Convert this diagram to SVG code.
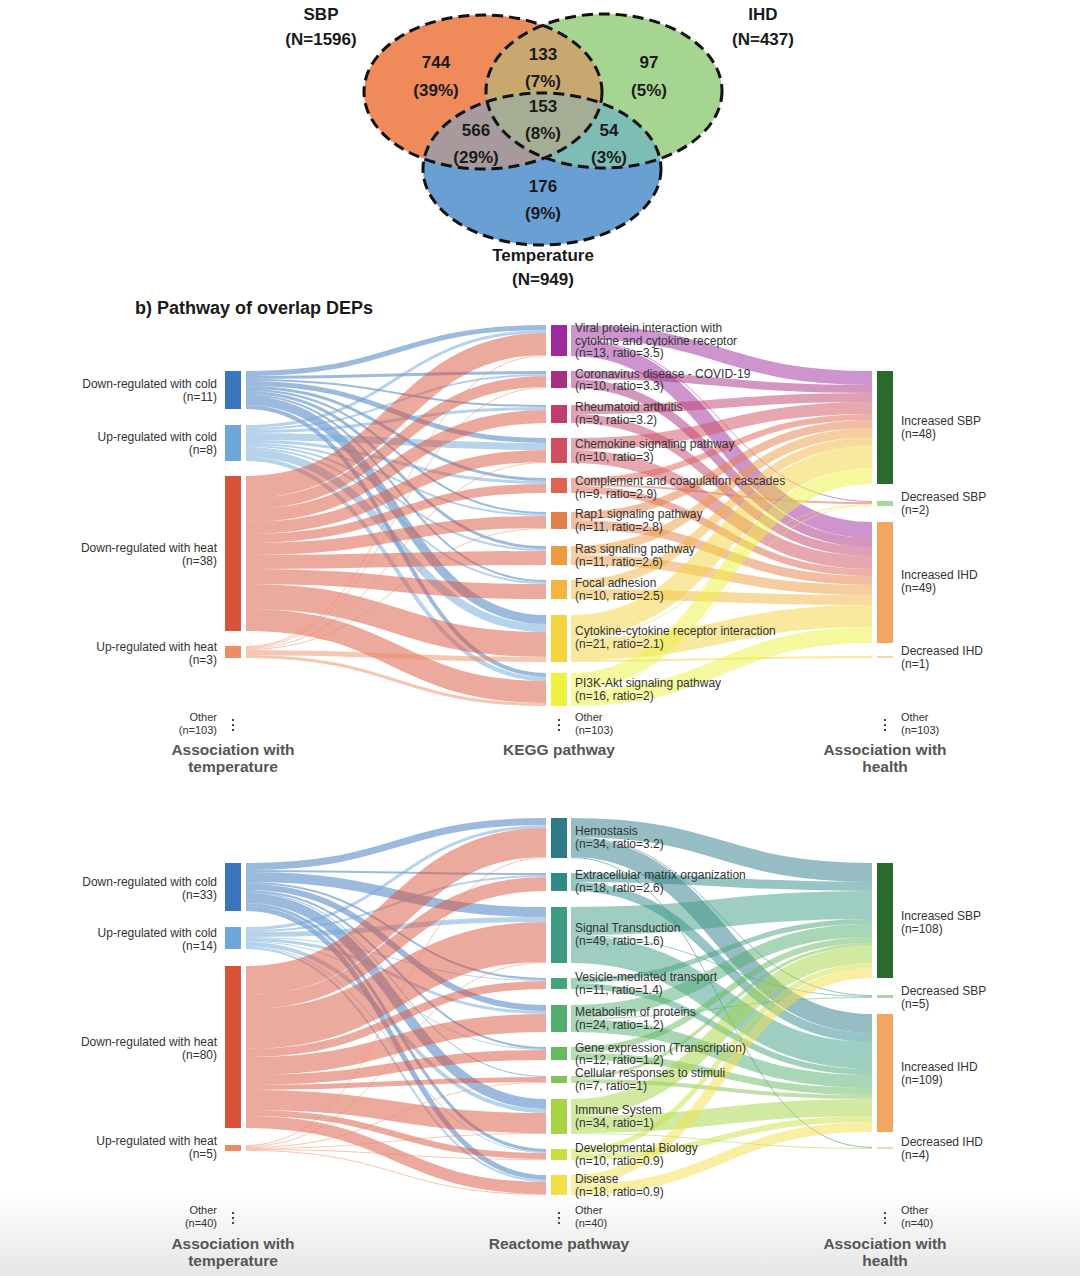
<svg xmlns="http://www.w3.org/2000/svg" width="1080" height="1276" viewBox="0 0 1080 1276">
<defs>
<style>
text{font-family:"Liberation Sans",Arial,sans-serif}
.t{font-size:12px;fill:#333}
.o{font-size:11px;fill:#333}
.r{text-anchor:end}
.ax{font-size:15.5px;font-weight:bold;fill:#555;text-anchor:middle}
.v{font-size:17px;font-weight:bold;fill:#1a1a1a;text-anchor:middle}
.vo{fill:none;stroke:#111;stroke-width:3;stroke-dasharray:11 6}
.lk path{fill:none;stroke-opacity:.5}
.dc{stroke:#3a76bd}.uc{stroke:#70a7da}.dh{stroke:#d9533b}.uh{stroke:#ee8d62}
.k1{stroke:#9c2a9e}.k2{stroke:#a8307f}.k3{stroke:#bf3f6c}.k4{stroke:#cf4f5f}.k5{stroke:#dc6450}.k6{stroke:#e57e47}.k7{stroke:#ec9b40}.k8{stroke:#f2b53f}.k9{stroke:#f3d43e}.k10{stroke:#eef23f}
.r1{stroke:#2e7b87}.r2{stroke:#2f8a8a}.r3{stroke:#3d9b84}.r4{stroke:#44a47c}.r5{stroke:#52ae6e}.r6{stroke:#66ba5e}.r7{stroke:#80c454}.r8{stroke:#a6d443}.r9{stroke:#cadf3f}.r10{stroke:#f1e04a}
.dot{stroke:#444;stroke-width:2;stroke-dasharray:2 3}
</style>
<clipPath id="cO"><ellipse cx="483" cy="92" rx="119" ry="77"/></clipPath>
<clipPath id="cG"><ellipse cx="604" cy="91" rx="118" ry="77"/></clipPath>
<linearGradient id="bg" x1="0" y1="0" x2="0" y2="1"><stop offset="0" stop-color="#fff"/><stop offset="1" stop-color="#e6e6e6"/></linearGradient>
</defs>
<rect width="1080" height="1276" fill="#fff"/>
<rect y="1190" width="1080" height="86" fill="url(#bg)"/>

<g id="venn">
<ellipse cx="483" cy="92" rx="119" ry="77" fill="#ef8a5b"/>
<ellipse cx="604" cy="91" rx="118" ry="77" fill="#a5d590"/>
<ellipse cx="542" cy="169" rx="119" ry="76" fill="#6a9fd3"/>
<ellipse cx="604" cy="91" rx="118" ry="77" fill="#c9a870" clip-path="url(#cO)"/>
<ellipse cx="542" cy="169" rx="119" ry="76" fill="#a89a9c" clip-path="url(#cO)"/>
<ellipse cx="542" cy="169" rx="119" ry="76" fill="#7ebdb5" clip-path="url(#cG)"/>
<g clip-path="url(#cO)"><ellipse cx="542" cy="169" rx="119" ry="76" fill="#a6ad95" clip-path="url(#cG)"/></g>
<ellipse class="vo" cx="483" cy="92" rx="119" ry="77"/>
<ellipse class="vo" cx="604" cy="91" rx="118" ry="77"/>
<ellipse class="vo" cx="542" cy="169" rx="119" ry="76"/>
<text class="v" x="321" y="20">SBP</text><text class="v" x="321" y="45">(N=1596)</text>
<text class="v" x="763" y="20">IHD</text><text class="v" x="763" y="45">(N=437)</text>
<text class="v" x="436" y="68">744</text><text class="v" x="436" y="96">(39%)</text>
<text class="v" x="543" y="60">133</text><text class="v" x="543" y="87">(7%)</text>
<text class="v" x="649" y="68">97</text><text class="v" x="649" y="96">(5%)</text>
<text class="v" x="543" y="112">153</text><text class="v" x="543" y="139">(8%)</text>
<text class="v" x="476" y="136">566</text><text class="v" x="476" y="163">(29%)</text>
<text class="v" x="609" y="136">54</text><text class="v" x="609" y="163">(3%)</text>
<text class="v" x="543" y="192">176</text><text class="v" x="543" y="219">(9%)</text>
<text class="v" x="543" y="261">Temperature</text><text class="v" x="543" y="285">(N=949)</text>
</g>

<text x="135" y="314" style="font-size:18px;font-weight:bold;fill:#1a1a1a">b) Pathway of overlap DEPs</text>

<g id="connectors" class="lk">
<path class="dc" stroke-width="5" d="M246,373.5C396,373.5 396,327.5 546,327.5"/>
<path class="dc" stroke-width="3" d="M246,377.5C396,377.5 396,372.5 546,372.5"/>
<path class="dc" stroke-width="2" d="M246,380C396,380 396,406 546,406"/>
<path class="dc" stroke-width="5" d="M246,383.5C396,383.5 396,440.5 546,440.5"/>
<path class="dc" stroke-width="3" d="M246,387.5C396,387.5 396,479.5 546,479.5"/>
<path class="dc" stroke-width="2" d="M246,390C396,390 396,513 546,513"/>
<path class="dc" stroke-width="3" d="M246,392.5C396,392.5 396,547.5 546,547.5"/>
<path class="dc" stroke-width="2" d="M246,395C396,395 396,581 546,581"/>
<path class="dc" stroke-width="9" d="M246,400.5C396,400.5 396,619.5 546,619.5"/>
<path class="dc" stroke-width="4" d="M246,407C396,407 396,675 546,675"/>
<path class="uc" stroke-width="3" d="M246,426.5C396,426.5 396,331.5 546,331.5"/>
<path class="uc" stroke-width="2" d="M246,429C396,429 396,375 546,375"/>
<path class="uc" stroke-width="3" d="M246,431.5C396,431.5 396,408.5 546,408.5"/>
<path class="uc" stroke-width="7" d="M246,436.5C396,436.5 396,446.5 546,446.5"/>
<path class="uc" stroke-width="3" d="M246,441.5C396,441.5 396,482.5 546,482.5"/>
<path class="uc" stroke-width="2" d="M246,444C396,444 396,515 546,515"/>
<path class="uc" stroke-width="2" d="M246,446C396,446 396,550 546,550"/>
<path class="uc" stroke-width="2" d="M246,448C396,448 396,583 546,583"/>
<path class="uc" stroke-width="8" d="M246,453C396,453 396,628 546,628"/>
<path class="uc" stroke-width="4" d="M246,459C396,459 396,679 546,679"/>
<path class="dh" stroke-width="22" d="M246,487C396,487 396,344 546,344"/>
<path class="dh" stroke-width="11" d="M246,503.5C396,503.5 396,381.5 546,381.5"/>
<path class="dh" stroke-width="13" d="M246,515.5C396,515.5 396,416.5 546,416.5"/>
<path class="dh" stroke-width="12" d="M246,528C396,528 396,456 546,456"/>
<path class="dh" stroke-width="9" d="M246,538.5C396,538.5 396,488.5 546,488.5"/>
<path class="dh" stroke-width="12" d="M246,549C396,549 396,522 546,522"/>
<path class="dh" stroke-width="14" d="M246,562C396,562 396,558 546,558"/>
<path class="dh" stroke-width="15" d="M246,576.5C396,576.5 396,591.5 546,591.5"/>
<path class="dh" stroke-width="25" d="M246,596.5C396,596.5 396,644.5 546,644.5"/>
<path class="dh" stroke-width="22" d="M246,620C396,620 396,692 546,692"/>
<path class="uh" stroke-width="1" d="M246,646.5C396,646.5 396,355.5 546,355.5"/>
<path class="uh" stroke-width="1" d="M246,647.5C396,647.5 396,387.5 546,387.5"/>
<path class="uh" stroke-width="1" d="M246,648.5C396,648.5 396,462.5 546,462.5"/>
<path class="uh" stroke-width="1" d="M246,649.5C396,649.5 396,528.5 546,528.5"/>
<path class="uh" stroke-width="5" d="M246,652.5C396,652.5 396,659.5 546,659.5"/>
<path class="uh" stroke-width="3" d="M246,656.5C396,656.5 396,704.5 546,704.5"/>
<path class="k1" stroke-width="14" d="M571,332C721,332 721,378 872,378"/>
<path class="k1" stroke-width="1" d="M571,339.5C721,339.5 721,501.5 872,501.5"/>
<path class="k1" stroke-width="16" d="M571,348C721,348 721,530 872,530"/>
<path class="k2" stroke-width="8" d="M571,375C721,375 721,389 872,389"/>
<path class="k2" stroke-width="9" d="M571,383.5C721,383.5 721,542.5 872,542.5"/>
<path class="k3" stroke-width="9" d="M571,409.5C721,409.5 721,397.5 872,397.5"/>
<path class="k3" stroke-width="9" d="M571,418.5C721,418.5 721,551.5 872,551.5"/>
<path class="k4" stroke-width="12" d="M571,444C721,444 721,408 872,408"/>
<path class="k4" stroke-width="13" d="M571,456.5C721,456.5 721,562.5 872,562.5"/>
<path class="k5" stroke-width="6" d="M571,481C721,481 721,417 872,417"/>
<path class="k5" stroke-width="2" d="M571,485C721,485 721,503 872,503"/>
<path class="k5" stroke-width="7" d="M571,489.5C721,489.5 721,572.5 872,572.5"/>
<path class="k6" stroke-width="8" d="M571,516C721,516 721,424 872,424"/>
<path class="k6" stroke-width="9" d="M571,524.5C721,524.5 721,580.5 872,580.5"/>
<path class="k7" stroke-width="9" d="M571,550.5C721,550.5 721,432.5 872,432.5"/>
<path class="k7" stroke-width="10" d="M571,560C721,560 721,590 872,590"/>
<path class="k8" stroke-width="9" d="M571,584.5C721,584.5 721,441.5 872,441.5"/>
<path class="k8" stroke-width="10" d="M571,594C721,594 721,600 872,600"/>
<path class="k9" stroke-width="22" d="M571,626C721,626 721,457 872,457"/>
<path class="k9" stroke-width="1" d="M571,637.5C721,637.5 721,504.5 872,504.5"/>
<path class="k9" stroke-width="22" d="M571,649C721,649 721,616 872,616"/>
<path class="k9" stroke-width="2" d="M571,661C721,661 721,657 872,657"/>
<path class="k10" stroke-width="16" d="M571,681C721,681 721,476 872,476"/>
<path class="k10" stroke-width="1" d="M571,689.5C721,689.5 721,505.5 872,505.5"/>
<path class="k10" stroke-width="16" d="M571,698C721,698 721,635 872,635"/>
<path class="dc" stroke-width="7" d="M246,866.5C396,866.5 396,821.5 546,821.5"/>
<path class="dc" stroke-width="2" d="M246,871C396,871 396,874 546,874"/>
<path class="dc" stroke-width="10" d="M246,877C396,877 396,912 546,912"/>
<path class="dc" stroke-width="2" d="M246,883C396,883 396,979 546,979"/>
<path class="dc" stroke-width="6" d="M246,887C396,887 396,1008 546,1008"/>
<path class="dc" stroke-width="2" d="M246,891C396,891 396,1048 546,1048"/>
<path class="dc" stroke-width="1" d="M246,892.5C396,892.5 396,1076.5 546,1076.5"/>
<path class="dc" stroke-width="10" d="M246,898C396,898 396,1104 546,1104"/>
<path class="dc" stroke-width="3" d="M246,904.5C396,904.5 396,1150.5 546,1150.5"/>
<path class="dc" stroke-width="5" d="M246,908.5C396,908.5 396,1177.5 546,1177.5"/>
<path class="uc" stroke-width="3" d="M246,928.5C396,928.5 396,826.5 546,826.5"/>
<path class="uc" stroke-width="2" d="M246,931C396,931 396,876 546,876"/>
<path class="uc" stroke-width="5" d="M246,934.5C396,934.5 396,919.5 546,919.5"/>
<path class="uc" stroke-width="1" d="M246,937.5C396,937.5 396,980.5 546,980.5"/>
<path class="uc" stroke-width="3" d="M246,939.5C396,939.5 396,1012.5 546,1012.5"/>
<path class="uc" stroke-width="1" d="M246,941.5C396,941.5 396,1049.5 546,1049.5"/>
<path class="uc" stroke-width="4" d="M246,944C396,944 396,1111 546,1111"/>
<path class="uc" stroke-width="1" d="M246,946.5C396,946.5 396,1152.5 546,1152.5"/>
<path class="uc" stroke-width="2" d="M246,948C396,948 396,1181 546,1181"/>
<path class="dh" stroke-width="29" d="M246,980.5C396,980.5 396,842.5 546,842.5"/>
<path class="dh" stroke-width="14" d="M246,1002C396,1002 396,884 546,884"/>
<path class="dh" stroke-width="40" d="M246,1029C396,1029 396,942 546,942"/>
<path class="dh" stroke-width="8" d="M246,1053C396,1053 396,985 546,985"/>
<path class="dh" stroke-width="18" d="M246,1066C396,1066 396,1023 546,1023"/>
<path class="dh" stroke-width="10" d="M246,1080C396,1080 396,1055 546,1055"/>
<path class="dh" stroke-width="5" d="M246,1087.5C396,1087.5 396,1079.5 546,1079.5"/>
<path class="dh" stroke-width="20" d="M246,1100C396,1100 396,1123 546,1123"/>
<path class="dh" stroke-width="6" d="M246,1113C396,1113 396,1156 546,1156"/>
<path class="dh" stroke-width="12" d="M246,1122C396,1122 396,1188 546,1188"/>
<path class="uh" stroke-width="1" d="M246,1145.5C396,1145.5 396,857.5 546,857.5"/>
<path class="uh" stroke-width="1" d="M246,1146.5C396,1146.5 396,962.5 546,962.5"/>
<path class="uh" stroke-width="1" d="M246,1147.5C396,1147.5 396,1082.5 546,1082.5"/>
<path class="uh" stroke-width="1" d="M246,1148.5C396,1148.5 396,1133.5 546,1133.5"/>
<path class="uh" stroke-width="1" d="M246,1149.5C396,1149.5 396,1159.5 546,1159.5"/>
<path class="uh" stroke-width="1" d="M246,1150.5C396,1150.5 396,1194.5 546,1194.5"/>
<path class="r1" stroke-width="19" d="M571,827.5C721,827.5 721,872.5 872,872.5"/>
<path class="r1" stroke-width="1" d="M571,837.5C721,837.5 721,995.5 872,995.5"/>
<path class="r1" stroke-width="19" d="M571,847.5C721,847.5 721,1023.5 872,1023.5"/>
<path class="r1" stroke-width="1" d="M571,857.5C721,857.5 721,1147.5 872,1147.5"/>
<path class="r2" stroke-width="9" d="M571,877.5C721,877.5 721,886.5 872,886.5"/>
<path class="r2" stroke-width="9" d="M571,886.5C721,886.5 721,1037.5 872,1037.5"/>
<path class="r3" stroke-width="28" d="M571,921C721,921 721,905 872,905"/>
<path class="r3" stroke-width="1" d="M571,935.5C721,935.5 721,996.5 872,996.5"/>
<path class="r3" stroke-width="27" d="M571,949.5C721,949.5 721,1055.5 872,1055.5"/>
<path class="r4" stroke-width="5" d="M571,980.5C721,980.5 721,921.5 872,921.5"/>
<path class="r4" stroke-width="6" d="M571,986C721,986 721,1072 872,1072"/>
<path class="r5" stroke-width="13" d="M571,1011.5C721,1011.5 721,930.5 872,930.5"/>
<path class="r5" stroke-width="1" d="M571,1018.5C721,1018.5 721,997.5 872,997.5"/>
<path class="r5" stroke-width="13" d="M571,1025.5C721,1025.5 721,1081.5 872,1081.5"/>
<path class="r6" stroke-width="6" d="M571,1050C721,1050 721,940 872,940"/>
<path class="r6" stroke-width="7" d="M571,1056.5C721,1056.5 721,1091.5 872,1091.5"/>
<path class="r7" stroke-width="3" d="M571,1077.5C721,1077.5 721,944.5 872,944.5"/>
<path class="r7" stroke-width="4" d="M571,1081C721,1081 721,1097 872,1097"/>
<path class="r8" stroke-width="17" d="M571,1107.5C721,1107.5 721,954.5 872,954.5"/>
<path class="r8" stroke-width="17" d="M571,1124.5C721,1124.5 721,1107.5 872,1107.5"/>
<path class="r8" stroke-width="1" d="M571,1133.5C721,1133.5 721,1148.5 872,1148.5"/>
<path class="r9" stroke-width="5" d="M571,1151.5C721,1151.5 721,965.5 872,965.5"/>
<path class="r9" stroke-width="6" d="M571,1157C721,1157 721,1119 872,1119"/>
<path class="r10" stroke-width="10" d="M571,1180C721,1180 721,973 872,973"/>
<path class="r10" stroke-width="10" d="M571,1190C721,1190 721,1127 872,1127"/>
</g>

<g id="t-dcold"><rect x="225" y="371" width="16" height="38" fill="#3a76bd"/><text class="t r" x="217" y="388">Down-regulated with cold</text><text class="t r" x="217" y="401">(n=11)</text></g>
<g id="t-ucold"><rect x="225" y="425" width="16" height="36" fill="#70a7da"/><text class="t r" x="217" y="441">Up-regulated with cold</text><text class="t r" x="217" y="454">(n=8)</text></g>
<g id="t-dheat"><rect x="225" y="476" width="16" height="155" fill="#d9533b"/><text class="t r" x="217" y="552">Down-regulated with heat</text><text class="t r" x="217" y="565">(n=38)</text></g>
<g id="t-uheat"><rect x="225" y="646" width="16" height="12" fill="#ee8d62"/><text class="t r" x="217" y="651">Up-regulated with heat</text><text class="t r" x="217" y="664">(n=3)</text></g>
<g id="t-lother"><text class="o r" x="217" y="721">Other</text><text class="o r" x="217" y="734">(n=103)</text><line class="dot" x1="233" y1="719" x2="233" y2="734"/></g>

<g id="k1"><rect x="551" y="325" width="16" height="31" fill="#9c2a9e"/><text class="t" x="575" y="332">Viral protein interaction with</text><text class="t" x="575" y="345">cytokine and cytokine receptor</text><text class="t" x="575" y="357">(n=13, ratio=3.5)</text></g>
<g id="k2"><rect x="551" y="371" width="16" height="17" fill="#a8307f"/><text class="t" x="575" y="378">Coronavirus disease - COVID-19</text><text class="t" x="575" y="390">(n=10, ratio=3.3)</text></g>
<g id="k3"><rect x="551" y="405" width="16" height="18" fill="#bf3f6c"/><text class="t" x="575" y="411">Rheumatoid arthritis</text><text class="t" x="575" y="424">(n=9, ratio=3.2)</text></g>
<g id="k4"><rect x="551" y="438" width="16" height="25" fill="#cf4f5f"/><text class="t" x="575" y="448">Chemokine signaling pathway</text><text class="t" x="575" y="461">(n=10, ratio=3)</text></g>
<g id="k5"><rect x="551" y="478" width="16" height="15" fill="#dc6450"/><text class="t" x="575" y="485">Complement and coagulation cascades</text><text class="t" x="575" y="498">(n=9, ratio=2.9)</text></g>
<g id="k6"><rect x="551" y="512" width="16" height="17" fill="#e57e47"/><text class="t" x="575" y="518">Rap1 signaling pathway</text><text class="t" x="575" y="531">(n=11, ratio=2.8)</text></g>
<g id="k7"><rect x="551" y="546" width="16" height="19" fill="#ec9b40"/><text class="t" x="575" y="553">Ras signaling pathway</text><text class="t" x="575" y="566">(n=11, ratio=2.6)</text></g>
<g id="k8"><rect x="551" y="580" width="16" height="19" fill="#f2b53f"/><text class="t" x="575" y="587">Focal adhesion</text><text class="t" x="575" y="600">(n=10, ratio=2.5)</text></g>
<g id="k9"><rect x="551" y="615" width="16" height="47" fill="#f3d43e"/><text class="t" x="575" y="635">Cytokine-cytokine receptor interaction</text><text class="t" x="575" y="648">(n=21, ratio=2.1)</text></g>
<g id="k10"><rect x="551" y="673" width="16" height="33" fill="#eef23f"/><text class="t" x="575" y="687">PI3K-Akt signaling pathway</text><text class="t" x="575" y="700">(n=16, ratio=2)</text></g>
<g id="k-other"><line class="dot" x1="559" y1="719" x2="559" y2="734"/><text class="o" x="575" y="721">Other</text><text class="o" x="575" y="734">(n=103)</text></g>

<g id="t-isbp"><rect x="877" y="371" width="16" height="113" fill="#2a6b2c"/><text class="t" x="901" y="425">Increased SBP</text><text class="t" x="901" y="438">(n=48)</text></g>
<g id="t-dsbp"><rect x="877" y="501" width="16" height="5" fill="#a5d69b"/><text class="t" x="901" y="501">Decreased SBP</text><text class="t" x="901" y="514">(n=2)</text></g>
<g id="t-iihd"><rect x="877" y="522" width="16" height="121" fill="#f2a660"/><text class="t" x="901" y="579">Increased IHD</text><text class="t" x="901" y="592">(n=49)</text></g>
<g id="t-dihd"><rect x="877" y="656" width="16" height="2" fill="#f6d7a7"/><text class="t" x="901" y="655">Decreased IHD</text><text class="t" x="901" y="668">(n=1)</text></g>
<g id="t-rother"><line class="dot" x1="885" y1="719" x2="885" y2="734"/><text class="o" x="901" y="721">Other</text><text class="o" x="901" y="734">(n=103)</text></g>

<g id="t-axes">
<text class="ax" x="233" y="755">Association with</text><text class="ax" x="233" y="772">temperature</text>
<text class="ax" x="559" y="755">KEGG pathway</text>
<text class="ax" x="885" y="755">Association with</text><text class="ax" x="885" y="772">health</text>
</g>

<g id="b-dcold"><rect x="225" y="863" width="16" height="48" fill="#3a76bd"/><text class="t r" x="217" y="886">Down-regulated with cold</text><text class="t r" x="217" y="899">(n=33)</text></g>
<g id="b-ucold"><rect x="225" y="927" width="16" height="22" fill="#70a7da"/><text class="t r" x="217" y="937">Up-regulated with cold</text><text class="t r" x="217" y="950">(n=14)</text></g>
<g id="b-dheat"><rect x="225" y="966" width="16" height="162" fill="#d9533b"/><text class="t r" x="217" y="1046">Down-regulated with heat</text><text class="t r" x="217" y="1059">(n=80)</text></g>
<g id="b-uheat"><rect x="225" y="1145" width="16" height="6" fill="#ee8d62"/><text class="t r" x="217" y="1145">Up-regulated with heat</text><text class="t r" x="217" y="1158">(n=5)</text></g>
<g id="b-lother"><text class="o r" x="217" y="1214">Other</text><text class="o r" x="217" y="1227">(n=40)</text><line class="dot" x1="233" y1="1212" x2="233" y2="1227"/></g>

<g id="m1"><rect x="551" y="818" width="16" height="40" fill="#2e7b87"/><text class="t" x="575" y="835">Hemostasis</text><text class="t" x="575" y="848">(n=34, ratio=3.2)</text></g>
<g id="m2"><rect x="551" y="873" width="16" height="18" fill="#2f8a8a"/><text class="t" x="575" y="879">Extracellular matrix organization</text><text class="t" x="575" y="892">(n=18, ratio=2.6)</text></g>
<g id="m3"><rect x="551" y="907" width="16" height="56" fill="#3d9b84"/><text class="t" x="575" y="932">Signal Transduction</text><text class="t" x="575" y="945">(n=49, ratio=1.6)</text></g>
<g id="m4"><rect x="551" y="978" width="16" height="11" fill="#44a47c"/><text class="t" x="575" y="981">Vesicle-mediated transport</text><text class="t" x="575" y="994">(n=11, ratio=1.4)</text></g>
<g id="m5"><rect x="551" y="1005" width="16" height="27" fill="#52ae6e"/><text class="t" x="575" y="1016">Metabolism of proteins</text><text class="t" x="575" y="1029">(n=24, ratio=1.2)</text></g>
<g id="m6"><rect x="551" y="1047" width="16" height="13" fill="#66ba5e"/><text class="t" x="575" y="1052">Gene expression (Transcription)</text><text class="t" x="575" y="1064">(n=12, ratio=1.2)</text></g>
<g id="m7"><rect x="551" y="1076" width="16" height="7" fill="#80c454"/><text class="t" x="575" y="1077">Cellular responses to stimuli</text><text class="t" x="575" y="1090">(n=7, ratio=1)</text></g>
<g id="m8"><rect x="551" y="1099" width="16" height="35" fill="#a6d443"/><text class="t" x="575" y="1114">Immune System</text><text class="t" x="575" y="1127">(n=34, ratio=1)</text></g>
<g id="m9"><rect x="551" y="1149" width="16" height="11" fill="#cadf3f"/><text class="t" x="575" y="1152">Developmental Biology</text><text class="t" x="575" y="1165">(n=10, ratio=0.9)</text></g>
<g id="m10"><rect x="551" y="1175" width="16" height="20" fill="#f1e04a"/><text class="t" x="575" y="1183">Disease</text><text class="t" x="575" y="1196">(n=18, ratio=0.9)</text></g>
<g id="m-other"><line class="dot" x1="559" y1="1212" x2="559" y2="1227"/><text class="o" x="575" y="1214">Other</text><text class="o" x="575" y="1227">(n=40)</text></g>

<g id="b-isbp"><rect x="877" y="863" width="16" height="115" fill="#2a6b2c"/><text class="t" x="901" y="920">Increased SBP</text><text class="t" x="901" y="933">(n=108)</text></g>
<g id="b-dsbp"><rect x="877" y="995" width="16" height="3" fill="#a5d69b"/><text class="t" x="901" y="995">Decreased SBP</text><text class="t" x="901" y="1008">(n=5)</text></g>
<g id="b-iihd"><rect x="877" y="1014" width="16" height="118" fill="#f2a660"/><text class="t" x="901" y="1071">Increased IHD</text><text class="t" x="901" y="1084">(n=109)</text></g>
<g id="b-dihd"><rect x="877" y="1147" width="16" height="2" fill="#f6d7a7"/><text class="t" x="901" y="1146">Decreased IHD</text><text class="t" x="901" y="1159">(n=4)</text></g>
<g id="b-rother"><line class="dot" x1="885" y1="1212" x2="885" y2="1227"/><text class="o" x="901" y="1214">Other</text><text class="o" x="901" y="1227">(n=40)</text></g>

<g id="b-axes">
<text class="ax" x="233" y="1249">Association with</text><text class="ax" x="233" y="1266">temperature</text>
<text class="ax" x="559" y="1249">Reactome pathway</text>
<text class="ax" x="885" y="1249">Association with</text><text class="ax" x="885" y="1266">health</text>
</g>
</svg>
